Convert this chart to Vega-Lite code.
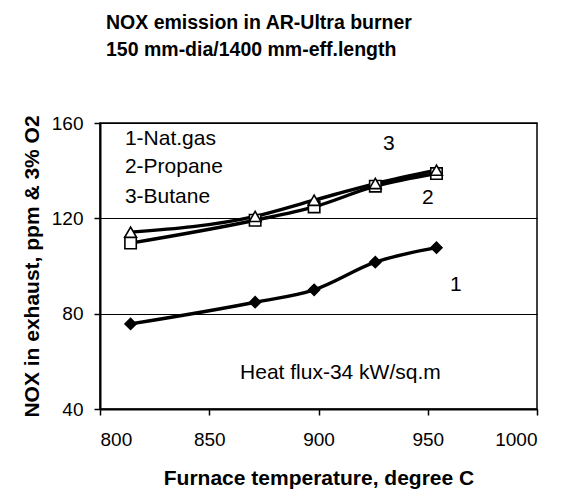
{
  "$schema": "https://vega.github.io/schema/vega-lite/v6.json",
  "width": 437,
  "height": 286,
  "autosize": "none",
  "padding": {"left": 100, "top": 123, "right": 26, "bottom": 87},
  "background": "white",
  "config": {
    "font": "Liberation Sans",
    "view": {"stroke": "black", "strokeWidth": 1.5},
    "axis": {
      "domainColor": "black", "domainWidth": 2,
      "tickColor": "black", "tickWidth": 1.5, "tickSize": 6,
      "labelColor": "black", "labelFontSize": 19, "labelFont": "Liberation Sans",
      "titleColor": "black", "titleFontSize": 21, "titleFont": "Liberation Sans", "titleFontWeight": "bold"
    }
  },
  "title": {
    "text": ["NOX emission in AR-Ultra burner", "150 mm-dia/1400 mm-eff.length"],
    "anchor": "start",
    "frame": "group",
    "dx": 6,
    "offset": 54,
    "fontSize": 19.5,
    "font": "Liberation Sans",
    "fontWeight": "bold",
    "color": "black",
    "lineHeight": 27
  },
  "datasets": {
    "nox": [
      {"series": "1", "temp": 814, "nox": 75.7},
      {"series": "1", "temp": 871, "nox": 84.8},
      {"series": "1", "temp": 898, "nox": 90.0},
      {"series": "1", "temp": 926, "nox": 101.6},
      {"series": "1", "temp": 954, "nox": 107.7},
      {"series": "2", "temp": 814, "nox": 109.6},
      {"series": "2", "temp": 871, "nox": 119.2},
      {"series": "2", "temp": 898, "nox": 124.8},
      {"series": "2", "temp": 926, "nox": 133.5},
      {"series": "2", "temp": 954, "nox": 138.8},
      {"series": "3", "temp": 814, "nox": 114.2},
      {"series": "3", "temp": 871, "nox": 120.8},
      {"series": "3", "temp": 898, "nox": 127.6},
      {"series": "3", "temp": 926, "nox": 134.6},
      {"series": "3", "temp": 954, "nox": 140.2}
    ],
    "notes": [
      {"label": "1-Nat.gas", "temp": 811.4, "nox": 153.1},
      {"label": "2-Propane", "temp": 811.4, "nox": 141.5},
      {"label": "3-Butane", "temp": 811.4, "nox": 129.0},
      {"label": "3", "temp": 929.5, "nox": 151.3},
      {"label": "2", "temp": 947.4, "nox": 128.6},
      {"label": "1", "temp": 960.2, "nox": 92.0},
      {"label": "Heat flux-34 kW/sq.m", "temp": 864.1, "nox": 55.0}
    ]
  },
  "layer": [
    {
      "data": {"name": "nox"},
      "mark": {"type": "line", "color": "black", "strokeWidth": 3.4, "interpolate": "monotone"},
      "encoding": {
        "x": {
          "field": "temp", "type": "quantitative",
          "scale": {"domain": [800, 1000], "nice": false, "zero": false},
          "axis": {"values": [800, 850, 900, 950, 1000], "format": "d", "grid": false, "title": "Furnace temperature, degree C", "labelPadding": 15, "titlePadding": 18}
        },
        "y": {
          "field": "nox", "type": "quantitative",
          "scale": {"domain": [40, 160], "nice": false, "zero": false},
          "axis": {"values": [40, 80, 120, 160], "grid": true, "gridColor": "black", "gridWidth": 1, "gridOpacity": 1, "title": "NOX in exhaust, ppm & 3% O2", "labelPadding": 11, "titlePadding": 9}
        },
        "detail": {"field": "series"}
      }
    },
    {
      "data": {"name": "nox"},
      "mark": {"type": "point", "stroke": "black", "strokeWidth": 1.6, "opacity": 1, "filled": false},
      "encoding": {
        "x": {"field": "temp", "type": "quantitative"},
        "y": {"field": "nox", "type": "quantitative"},
        "shape": {"field": "series", "type": "nominal", "scale": {"domain": ["1", "2", "3"], "range": ["diamond", "square", "triangle-up"]}, "legend": null},
        "fill": {"field": "series", "type": "nominal", "scale": {"domain": ["1", "2", "3"], "range": ["black", "white", "white"]}, "legend": null},
        "size": {"field": "series", "type": "nominal", "scale": {"domain": ["1", "2", "3"], "range": [120, 140, 160]}, "legend": null}
      }
    },
    {
      "data": {"name": "notes"},
      "mark": {"type": "text", "align": "left", "baseline": "middle", "fontSize": 21, "font": "Liberation Sans", "color": "black"},
      "encoding": {
        "x": {"field": "temp", "type": "quantitative"},
        "y": {"field": "nox", "type": "quantitative"},
        "text": {"field": "label"}
      }
    }
  ]
}
